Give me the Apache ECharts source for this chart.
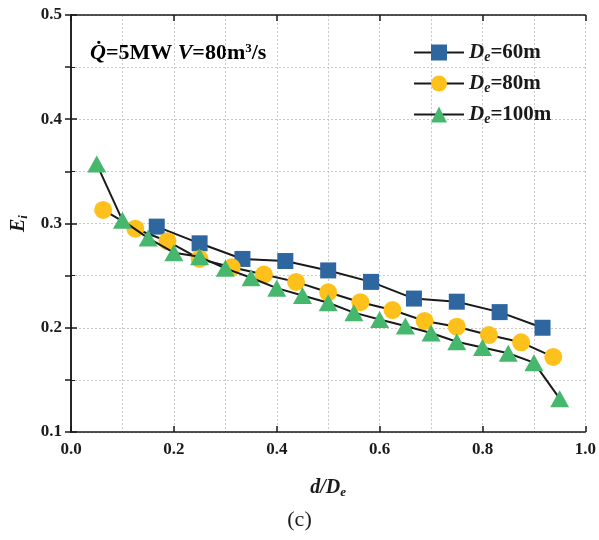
<!DOCTYPE html>
<html>
<head>
<meta charset="utf-8">
<script src="https://cdn.jsdelivr.net/npm/echarts@6/dist/echarts.min.js"></script>
<style>html,body{margin:0;padding:0;background:#fff}#c{width:599px;height:540px}</style>
</head>
<body>
<div id="c"></div>
<script>
// Data
const x60 = [0.1667, 0.25, 0.3333, 0.4167, 0.5, 0.5833, 0.6667, 0.75, 0.8333, 0.9167];
const y60 = [0.297, 0.281, 0.266, 0.264, 0.255, 0.244, 0.228, 0.225, 0.215, 0.200];
const x80 = [0.0625, 0.125, 0.1875, 0.25, 0.3125, 0.375, 0.4375, 0.5, 0.5625, 0.625, 0.6875, 0.75, 0.8125, 0.875, 0.9375];
const y80 = [0.313, 0.295, 0.283, 0.266, 0.258, 0.251, 0.244, 0.234, 0.2245, 0.217, 0.2065, 0.201, 0.193, 0.186, 0.172];
const x100 = [0.05, 0.1, 0.15, 0.2, 0.25, 0.3, 0.35, 0.4, 0.45, 0.5, 0.55, 0.6, 0.65, 0.7, 0.75, 0.8, 0.85, 0.9, 0.95];
const y100 = [0.357, 0.303, 0.286, 0.272, 0.268, 0.257, 0.248, 0.238, 0.231, 0.224, 0.2145, 0.208, 0.2017, 0.195, 0.1866, 0.181, 0.1755, 0.1665, 0.132];
const seriesNames = ['60m', '80m', '100m'];
const xTicks = [0, 1];
const yTicks = [0.1, 0.5];

const FONT = '"Liberation Serif", "Times New Roman", serif';
const zip = (a, b) => a.map((v, i) => [v, b[i]]);

const chart = echarts.init(document.getElementById('c'), null, {renderer: 'canvas'});
const gridLine = {show: true, lineStyle: {color: '#c8c8c8', type: [2, 2], width: 1}};
const labelStyle = {fontFamily: FONT, fontWeight: 'bold', fontSize: 17, color: '#1a1a1a'};
function rich(size) {
  return {
    it: {fontFamily: FONT, fontWeight: 'bold', fontStyle: 'italic', fontSize: size, color: '#1a1a1a'},
    sub: {fontFamily: FONT, fontWeight: 'bold', fontStyle: 'italic', fontSize: Math.round(size * 0.65), color: '#1a1a1a', padding: [Math.round(size * 0.45), 0, 0, 0]},
    n: {fontFamily: FONT, fontWeight: 'bold', fontSize: size, color: '#1a1a1a'},
    sup: {fontFamily: FONT, fontWeight: 'bold', fontSize: Math.round(size * 0.6), color: '#1a1a1a', padding: [0, 0, Math.round(size * 0.45), 0]}
  };
}
const colors = ['#2e66a0', '#fec11c', '#46b86e'];
const symbols = ['rect', 'circle', 'triangle'];
const sizes = [16, 18, [19, 17]];
const datas = [zip(x60, y60), zip(x80, y80), zip(x100, y100)];

chart.setOption({
  animation: false,
  backgroundColor: '#fff',
  grid: {left: 71, right: 9, top: 15, bottom: 108, containLabel: false},
  xAxis: [{
    type: 'value', min: xTicks[0], max: xTicks[1], interval: 0.2,
    axisLine: {show: true, lineStyle: {color: '#1a1a1a', width: 1.5}},
    axisTick: {show: true, inside: true, length: 6, lineStyle: {color: '#1a1a1a', width: 1.5}},
    minorTick: {show: false, splitNumber: 2},
    splitLine: gridLine,
    minorSplitLine: gridLine,
    axisLabel: Object.assign({formatter: v => v.toFixed(1), margin: 9}, labelStyle),
    name: '{it|d/D}{sub|e}', nameLocation: 'middle', nameGap: 45,
    nameTextStyle: {rich: rich(20)}
  }, {
    type: 'value', position: 'top', min: xTicks[0], max: xTicks[1], interval: 0.2,
    axisLine: {show: true, lineStyle: {color: '#1a1a1a', width: 1.5}},
    axisTick: {show: true, inside: true, length: 6, lineStyle: {color: '#1a1a1a', width: 1.5}},
    axisLabel: {show: false}, splitLine: {show: false}
  }],
  yAxis: [{
    type: 'value', min: yTicks[0], max: yTicks[1], interval: 0.1,
    axisLine: {show: true, lineStyle: {color: '#1a1a1a', width: 1.5}},
    axisTick: {show: true, inside: true, length: 6, lineStyle: {color: '#1a1a1a', width: 1.5}},
    minorTick: {show: true, splitNumber: 2, length: 4, lineStyle: {color: '#1a1a1a', width: 1}},
    splitLine: gridLine,
    minorSplitLine: gridLine,
    axisLabel: Object.assign({formatter: v => v.toFixed(1), margin: 9}, labelStyle),
    name: '{it|E}{sub|i}', nameLocation: 'middle', nameGap: 37, nameRotate: 90,
    nameTextStyle: {rich: rich(20)}
  }, {
    type: 'value', position: 'right', min: yTicks[0], max: yTicks[1], interval: 0.05,
    axisLine: {show: true, lineStyle: {color: '#1a1a1a', width: 1.5}},
    axisTick: {show: true, inside: true, length: 6, lineStyle: {color: '#1a1a1a', width: 1.5}},
    axisLabel: {show: false}, splitLine: {show: false}
  }],
  legend: {
    orient: 'vertical', left: 408, top: 37, itemGap: 9, itemWidth: 50, itemHeight: 20,
    data: seriesNames.map(n => 'D_' + n),
    formatter: name => '{it|D}{sub|e}{n|=' + name.slice(2) + '}',
    textStyle: {rich: rich(21)}
  },
  series: seriesNames.map((n, i) => ({
    name: 'D_' + n, type: 'line', xAxisIndex: 0, yAxisIndex: 0,
    data: datas[i], symbol: symbols[i], symbolSize: sizes[i],
    showAllSymbol: true, z: 2 + i,
    lineStyle: {color: '#1a1a1a', width: 2},
    itemStyle: {color: colors[i], borderWidth: 0}
  })),
  graphic: [{
    type: 'text', left: 90, top: 42,
    style: {
      text: '{it|Q\u0307}{n|=5MW }{it|V}{n|=80m}{sup|3}{n|/s}',
      rich: rich(22)
    }
  }, {
    type: 'text', left: 'center', top: 509,
    style: {text: '(c)', font: '22px "Liberation Serif", serif', fill: '#1a1a1a'}
  }]
});
</script>
</body>
</html>
